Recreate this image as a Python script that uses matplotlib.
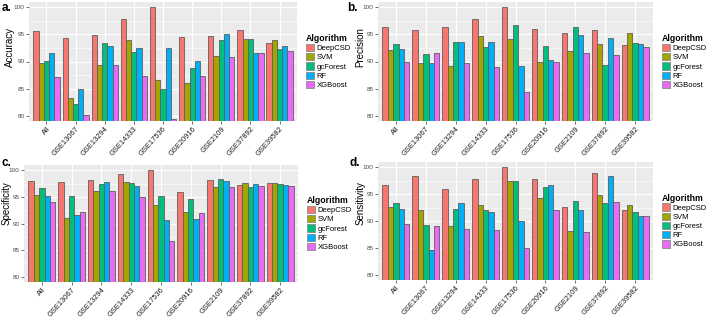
import numpy as np
import matplotlib.pyplot as plt
from matplotlib.patches import Patch

plt.rcParams['font.family'] = ['Liberation Sans', 'DejaVu Sans']

datasets = ['All', 'GSE13067', 'GSE13294', 'GSE14333', 'GSE17536',
            'GSE20916', 'GSE2109', 'GSE37892', 'GSE39582']
algorithms = ['DeepCSD', 'SVM', 'gcForest', 'RF', 'XGBoost']
colors = ['#F8766D', '#A3A500', '#00BF7D', '#00B0F6', '#E76BF3']

# rows = algorithms, columns = datasets
accuracy = [
    [95.7, 94.3, 94.9, 97.8, 100.0, 94.6, 94.8, 95.9, 93.5],
    [89.8, 83.2, 89.3, 94.0, 86.6, 86.0, 91.0, 94.1, 94.0],
    [90.1, 82.2, 93.5, 91.8, 84.9, 88.8, 94.0, 94.1, 92.3],
    [91.5, 84.9, 92.8, 92.5, 92.5, 90.1, 95.1, 91.5, 92.9],
    [87.1, 80.1, 89.3, 87.3, 79.3, 87.3, 90.9, 91.5, 92.0],
]
precision = [
    [96.4, 95.9, 96.4, 97.9, 100.0, 96.0, 95.3, 95.9, 93.1],
    [92.2, 89.8, 89.2, 94.8, 94.2, 90.0, 91.9, 93.2, 95.3],
    [93.3, 91.4, 93.6, 92.7, 96.7, 92.8, 96.4, 89.4, 93.5],
    [92.3, 89.8, 93.6, 93.6, 89.2, 90.3, 94.9, 94.4, 93.2],
    [89.9, 91.5, 89.8, 89.0, 84.3, 89.9, 91.5, 91.2, 92.7],
]
specificity = [
    [98.0, 97.8, 98.2, 99.4, 100.0, 95.9, 98.2, 97.2, 97.7],
    [95.4, 91.1, 96.1, 97.8, 93.4, 92.2, 96.8, 97.7, 97.7],
    [96.6, 95.1, 97.4, 97.6, 95.1, 94.6, 98.4, 96.8, 97.4],
    [95.1, 91.6, 97.8, 97.0, 90.6, 90.9, 97.9, 97.4, 97.2],
    [94.1, 92.1, 96.1, 94.9, 86.7, 92.0, 96.8, 97.0, 97.0],
]
sensitivity = [
    [96.7, 98.4, 95.9, 97.8, 100.0, 97.8, 92.6, 98.9, 92.1],
    [92.7, 92.1, 89.1, 92.9, 97.5, 94.3, 88.2, 94.9, 92.9],
    [93.3, 89.2, 92.3, 92.0, 97.5, 96.3, 93.8, 93.4, 91.6],
    [92.2, 84.6, 93.3, 91.7, 90.0, 96.8, 92.0, 98.4, 90.9],
    [89.5, 89.0, 88.6, 88.4, 84.9, 92.1, 88.0, 93.6, 91.0],
]

W, H = 707, 317
fig = plt.figure(figsize=(W / 100, H / 100), dpi=100)

def px_axes(left, top, right, bottom):
    return fig.add_axes([left / W, 1 - bottom / H, (right - left) / W, (bottom - top) / H])

# tag, y title, values, axes box (px), tag position (px), y title centre (px)
panels = [
    ('a.', 'Accuracy', accuracy, (29, 2, 297, 121), (2, 8), (10, 47)),
    ('b.', 'Precision', precision, (378, 2, 653, 121), (347, 8), (360, 47)),
    ('c.', 'Specificity', specificity, (24, 165, 298, 282), (1, 163), (7, 203)),
    ('d.', 'Sensitivity', sensitivity, (378, 162, 653, 280), (349, 163), (361, 203)),
]

x = np.arange(len(datasets))
bw = 0.9 / len(algorithms)

for tag, ylabel, values, box, tagpos, labpos in panels:
    ax = px_axes(*box)
    ax.set_facecolor('#EBEBEB')
    ax.set_axisbelow(True)
    for i, alg in enumerate(algorithms):
        ax.bar(x - 0.45 + bw * (i + 0.5), np.array(values[i]) - 70, bw, bottom=70,
               color=colors[i], edgecolor='#5f5f5f', linewidth=0.6, label=alg)
    ax.set_ylim(79, 101)
    ax.set_xlim(-0.6, len(datasets) - 0.4)
    ax.set_yticks([80, 85, 90, 95, 100])
    ax.set_yticks([82.5, 87.5, 92.5, 97.5], minor=True)
    ax.set_xticks(x)
    ax.set_xticklabels(datasets, rotation=48, ha='right', rotation_mode='anchor',
                       fontsize=5.4, color='#1a1a1a')
    ax.tick_params(axis='y', labelsize=4.6, labelcolor='#4D4D4D', length=2,
                   width=0.5, color='#333333', pad=1)
    ax.tick_params(axis='y', which='minor', length=0)
    ax.tick_params(axis='x', length=2, width=0.5, color='#333333', pad=1)
    ax.grid(which='major', color='white', linewidth=0.8)
    ax.grid(which='minor', axis='y', color='white', linewidth=0.4)
    for s in ax.spines.values():
        s.set_visible(False)
    ax.set_ylabel(ylabel, fontsize=7)
    ax.yaxis.label.set_va('center')
    left, top, right, bottom = box
    ax.yaxis.set_label_coords((labpos[0] - left) / (right - left),
                              (bottom - labpos[1]) / (bottom - top))
    handles = [Patch(facecolor=c, edgecolor='#8a8a8a', linewidth=0.6) for c in colors]
    leg = ax.legend(handles, algorithms, title='Algorithm', loc='center left',
                    bbox_to_anchor=(1.0, 0.5), frameon=False, fontsize=5.5,
                    title_fontsize=6.3, handlelength=1.05, handleheight=1.1,
                    handletextpad=0.35, labelspacing=0.12, borderaxespad=1.0,
                    borderpad=0.2)
    leg.get_title().set_fontweight('bold')
    leg._legend_box.align = 'left'
    fig.text(tagpos[0] / W, 1 - tagpos[1] / H, tag, fontsize=8.5, fontweight='bold',
             va='center', ha='left')

fig.savefig('out.png', dpi=100)
